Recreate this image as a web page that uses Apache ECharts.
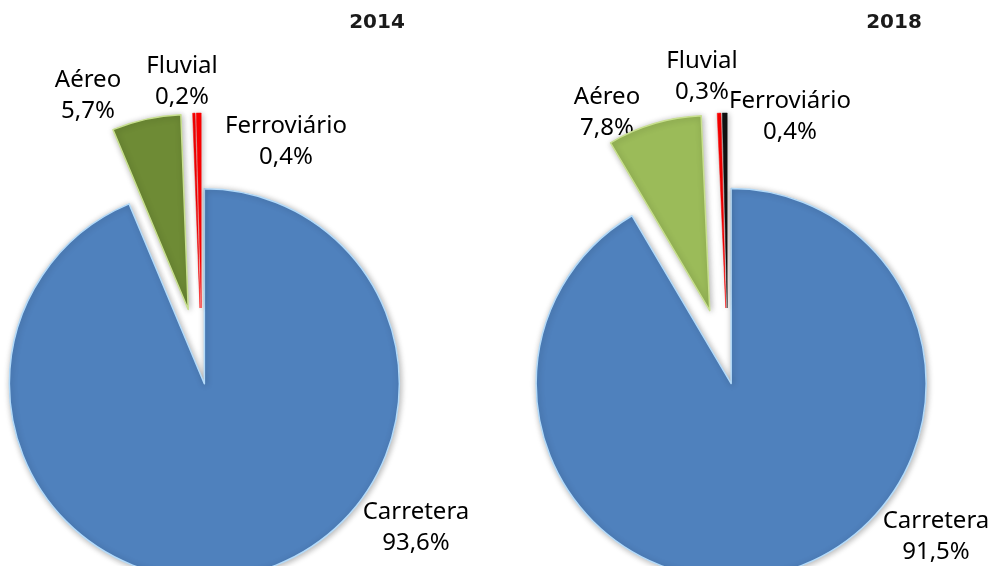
<!DOCTYPE html>
<html>
<head>
<meta charset="utf-8">
<script src="https://cdn.jsdelivr.net/npm/echarts@6/dist/echarts.min.js"></script>
<style>
  html, body { margin: 0; padding: 0; background: #fff; }
  #chart { width: 992px; height: 566px; }
</style>
</head>
<body>
<div id="chart"></div>
<script>
// datos
const categories = ['Carretera', 'Aéreo', 'Fluvial', 'Ferroviário'];
const years = ['2014', '2018'];
const values2014 = [93.6, 5.7, 0.2, 0.4];
const values2018 = [91.5, 7.8, 0.3, 0.4];

const chartDom = document.getElementById('chart');
const myChart = echarts.init(chartDom);

// colores por año
const colors = {
    '2014': ['#4F81BD', '#6E8B35', '#FF0000', '#FF0000'],
    '2018': ['#4F81BD', '#9BBB59', '#FF0000', '#111111']
};
const borders = {
    '2014': ['#B4DBFA', '#C8E08F', '#FF0000', '#FF0000'],
    '2018': ['#B4DBFA', '#C8E08F', '#FF0000', '#111111']
};
const borderWidths = [1.5, 1.5, 0.5, 0.5];

// posición de las etiquetas (centro del texto)
const labelPos = {
    '2014': [[416, 528], [88, 96], [182, 82], [286, 142]],
    '2018': [[936, 537], [607, 113], [702, 77], [790, 117]]
};
const centers = { '2014': [202, 372], '2018': [728, 372] };

function fmt(v) {
    return v.toFixed(1).replace('.', ',') + '%';
}

// una serie para el sector grande y otra para los pequeños (distinto desplazamiento)
function makeSeries(year, values, big) {
    const data = categories.map((name, i) => {
        const visible = big ? i === 0 : i !== 0;
        return {
            name: name,
            value: values[i],
            selected: visible,
            itemStyle: visible
                ? { color: colors[year][i], borderColor: borders[year][i], borderWidth: borderWidths[i],
                    shadowBlur: 6, shadowColor: 'rgba(0,0,0,0.3)', shadowOffsetX: 1, shadowOffsetY: 1 }
                : { color: 'rgba(0,0,0,0)', borderWidth: 0 }
        };
    });
    return {
        type: 'pie',
        name: year,
        center: centers[year],
        radius: 195,
        startAngle: 90,
        clockwise: true,
        selectedMode: 'multiple',
        selectedOffset: big ? 12 : 64,
        silent: true,
        emphasis: { disabled: true },
        label: { show: false },
        labelLine: { show: false },
        data: data
    };
}

// etiquetas de texto
function makeLabels(year, values) {
    return categories.map((name, i) => ({
        type: 'text',
        x: labelPos[year][i][0],
        y: labelPos[year][i][1],
        style: {
            text: name + '\n' + fmt(values[i]),
            fontFamily: 'Noto Sans',
            fontSize: 24,
            lineHeight: 31,
            fill: '#000',
            align: 'center',
            verticalAlign: 'middle'
        }
    }));
}

const option = {
    animation: false,
    title: [
        { text: years[0], left: 372, top: 8, textAlign: 'center',
          textStyle: { fontFamily: 'DejaVu Sans', fontWeight: 'bold', fontSize: 20, color: '#1a1a1a' } },
        { text: years[1], left: 889, top: 8, textAlign: 'center',
          textStyle: { fontFamily: 'DejaVu Sans', fontWeight: 'bold', fontSize: 20, color: '#1a1a1a' } }
    ],
    graphic: makeLabels('2014', values2014).concat(makeLabels('2018', values2018)),
    series: [
        makeSeries('2014', values2014, true),
        makeSeries('2014', values2014, false),
        makeSeries('2018', values2018, true),
        makeSeries('2018', values2018, false)
    ]
};

option && myChart.setOption(option);
</script>
</body>
</html>
